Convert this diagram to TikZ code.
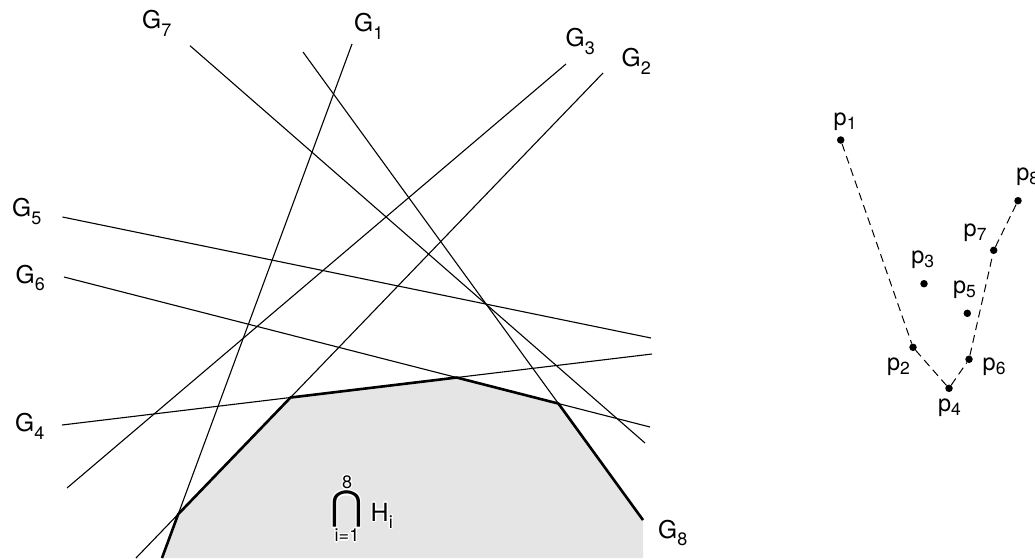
\documentclass[tikz,border=0pt]{standalone}
\usepackage{fontspec}
\setmainfont{TeX Gyre Heros}
\newfontfamily\symfont{DejaVu Sans}
\newcommand\gsub[2]{#1\raisebox{-7.5pt}{\fontsize{18}{18}\selectfont #2}}
\newcommand\psub[2]{#1\raisebox{-4pt}{\fontsize{17.5}{17.5}\selectfont #2}}
\newcommand\halonode[3]{%
  \foreach \dx/\dy in {1.4/0,-1.4/0,0/1.4,0/-1.4,1/1,-1/1,1/-1,-1/-1}{%
    \node[#1, text=white, xshift=\dx pt, yshift=\dy pt] at #2 {#3};}%
}
\begin{document}
\begin{tikzpicture}[x=1pt,y=-1pt,
  thinline/.style={line width=1.1pt, black},
  hull/.style={line width=2.6pt, black, line join=miter},
  hullfill/.style={fill=black!10, draw=none},
  lbl/.style={anchor=base west, inner sep=0pt, font=\fontsize{24.5}{24.5}\selectfont},
  plbl/.style={anchor=base west, inner sep=0pt, font=\fontsize{23.5}{23.5}\selectfont},
  dot/.style={circle, fill=black, inner sep=0pt, minimum size=7.5pt},
  dashline/.style={line width=1pt, dash pattern=on 8pt off 5pt},
  bigcapstyle/.style={anchor=base, inner sep=0pt, font=\symfont\fontsize{40}{40}\selectfont},
  limitstyle/.style={anchor=base, inner sep=0pt, font=\fontsize{18}{18}\selectfont},
  hlbl/.style={anchor=base west, inner sep=0pt, font=\fontsize{25}{25}\selectfont}]
\useasboundingbox (0,0) rectangle (1035,558);

% line end points
\coordinate (g1a) at (352,44);   \coordinate (g1b) at (162,558);
\coordinate (g2a) at (603,73);   \coordinate (g2b) at (136,558);
\coordinate (g3a) at (566,64);   \coordinate (g3b) at (67,488);
\coordinate (g4a) at (62,425);   \coordinate (g4b) at (652,354);
\coordinate (g5a) at (62.5,217); \coordinate (g5b) at (651,338);
\coordinate (g6a) at (64,277);   \coordinate (g6b) at (650,427);
\coordinate (g7a) at (190,45.7); \coordinate (g7b) at (645,443);
\coordinate (g8a) at (303,52);   \coordinate (g8b) at (643,520);

% hull vertices
\coordinate (v12) at (intersection of g1a--g1b and g2a--g2b);
\coordinate (v24) at (intersection of g2a--g2b and g4a--g4b);
\coordinate (v46) at (intersection of g4a--g4b and g6a--g6b);
\coordinate (v68) at (intersection of g6a--g6b and g8a--g8b);

\fill[hullfill] (g1b) -- (v12) -- (v24) -- (v46) -- (v68) -- (g8b) -- (g8b |- g1b) -- cycle;

\foreach \g in {1,...,8}{\draw[thinline] (g\g a) -- (g\g b);}
\draw[hull] (g1b) -- (v12) -- (v24) -- (v46) -- (v68) -- (g8b);

% line labels
\node[lbl] (G7) at (142,28.5) {\gsub{G}{7}};
\node[lbl] (G1) at (354,31.7) {\gsub{G}{1}};
\node[lbl] (G3) at (565.5,46.7) {\gsub{G}{3}};
\node[lbl] (G2) at (621.5,66.7) {\gsub{G}{2}};
\node[lbl] (G5) at (12,216.7) {\gsub{G}{5}};
\node[lbl] (G6) at (15.5,283.3) {\gsub{G}{6}};
\node[lbl] (G4) at (15,431.7) {\gsub{G}{4}};
\node[lbl] (G8) at (658,538.3) {\gsub{G}{8}};

% intersection label with halo
\halonode{bigcapstyle}{(347,519.7)}{⋂}
\halonode{limitstyle}{(347,488.5)}{8}
\halonode{limitstyle}{(347,541.7)}{i=1}
\halonode{hlbl}{(370.5,521)}{\gsub{H}{i}}
\node[bigcapstyle] (capsym) at (347,519.7) {⋂};
\node[limitstyle] (upper) at (347,488.5) {8};
\node[limitstyle] (lower) at (347,541.7) {i=1};
\node[hlbl] (H) at (370.5,521) {\gsub{H}{i}};

% point set
\node[dot] (d1) at (840.7,140) {};
\node[dot] (d2) at (913,347.3) {};
\node[dot] (d3) at (924,283.7) {};
\node[dot] (d4) at (949,388.3) {};
\node[dot] (d5) at (967.3,313.3) {};
\node[dot] (d6) at (969,359.3) {};
\node[dot] (d7) at (993.7,250.3) {};
\node[dot] (d8) at (1018,200.7) {};
\draw[dashline] (d1) -- (d2) -- (d4) -- (d6) -- (d7) -- (d8);

\node[plbl] (p1) at (833.5,125) {\psub{p}{1}};
\node[plbl] (p8) at (1016.2,180) {\psub{p}{8}};
\node[plbl] (p7) at (963.5,236.7) {\psub{p}{7}};
\node[plbl] (p3) at (911.2,263.3) {\psub{p}{3}};
\node[plbl] (p5) at (952.8,293.3) {\psub{p}{5}};
\node[plbl] (p2) at (886.8,370) {\psub{p}{2}};
\node[plbl] (p6) at (982.5,370) {\psub{p}{6}};
\node[plbl] (p4) at (937.8,411.7) {\psub{p}{4}};
\end{tikzpicture}
\end{document}
